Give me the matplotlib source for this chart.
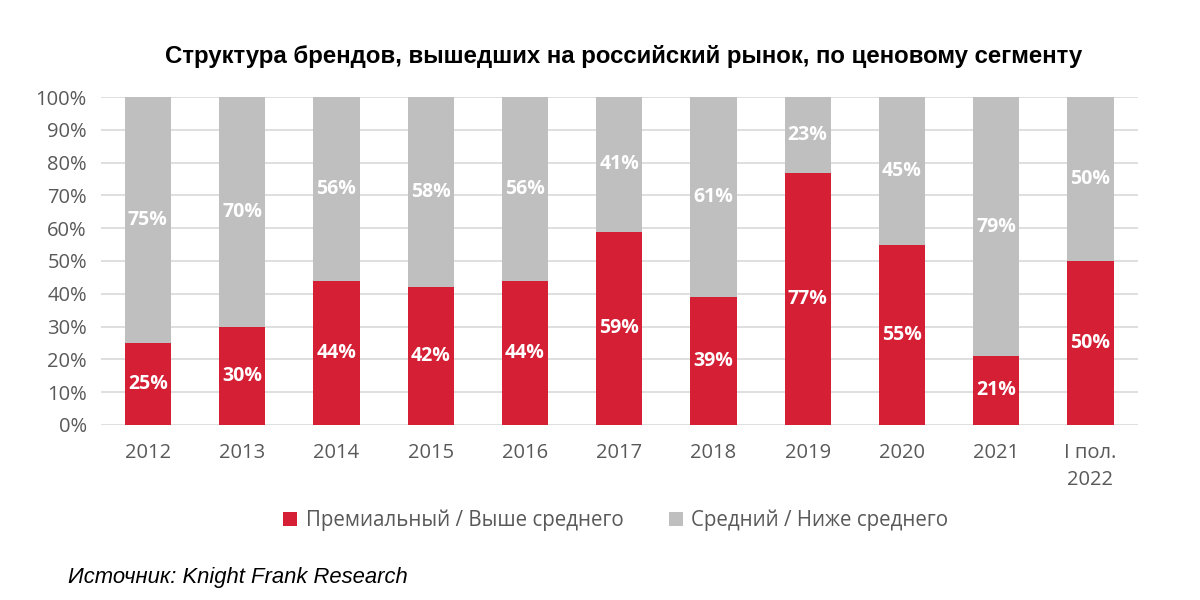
import matplotlib.pyplot as plt
import numpy as np

# data
categories = ['2012', '2013', '2014', '2015', '2016', '2017', '2018',
              '2019', '2020', '2021', 'I пол.\n2022']
premium = [25, 30, 44, 42, 44, 59, 39, 77, 55, 21, 50]
middle = [75, 70, 56, 58, 56, 41, 61, 23, 45, 79, 50]

red = '#D51F35'
grey = '#BFBFBF'
txt = '#595959'

fig = plt.figure(figsize=(12, 6), dpi=100)
ax = fig.add_axes([0.084, 0.292, 0.864, 0.546])

x = np.arange(len(categories))
w = 0.49
b1 = ax.bar(x, premium, w, color=red, label='Премиальный / Выше среднего', zorder=2)
b2 = ax.bar(x, middle, w, bottom=premium, color=grey,
            label='Средний / Ниже среднего', zorder=2)

for i in range(len(x)):
    ax.text(x[i], premium[i] / 2, f'{premium[i]}%', ha='center', va='center',
            color='white', fontsize=14, fontweight='bold', family='Open Sans')
    ax.text(x[i], premium[i] + middle[i] / 2, f'{middle[i]}%', ha='center',
            va='center', color='white', fontsize=14, fontweight='bold',
            family='Open Sans')

ax.set_xlim(-0.5, len(x) - 0.5)
ax.set_ylim(0, 100)
ax.set_yticks(range(0, 101, 10))
ax.set_yticklabels([f'{v}%' for v in range(0, 101, 10)])
ax.set_xticks(x)
ax.set_xticklabels(categories, linespacing=1.5)
for lab in ax.get_xticklabels() + ax.get_yticklabels():
    lab.set_family('Open Sans')
    lab.set_fontsize(14.5)
    lab.set_color(txt)
ax.tick_params(length=0)
ax.tick_params(axis='x', pad=13)
ax.tick_params(axis='y', pad=10)
ax.yaxis.grid(True, color='#D9D9D9', linewidth=1.2, zorder=0)
ax.set_axisbelow(True)
for s in ax.spines.values():
    s.set_visible(False)

fig.text(0.52, 0.905, 'Структура брендов, вышедших на российский рынок, по ценовому сегменту',
         ha='center', va='center', fontsize=17.3, fontweight='bold',
         family='Liberation Sans')

leg = fig.legend(handles=[b1, b2], loc='center', bbox_to_anchor=(0.513, 0.133),
                 ncol=2, frameon=False, handlelength=0.7, handleheight=0.7,
                 handletextpad=0.4, columnspacing=2.2,
                 prop={'family': 'Open Sans', 'size': 14.8})
for t in leg.get_texts():
    t.set_color(txt)

fig.text(0.057, 0.037, 'Источник: Knight Frank Research', ha='left', va='center',
         fontsize=15.8, style='italic', family='Liberation Sans')

plt.savefig('out.png', dpi=100)
